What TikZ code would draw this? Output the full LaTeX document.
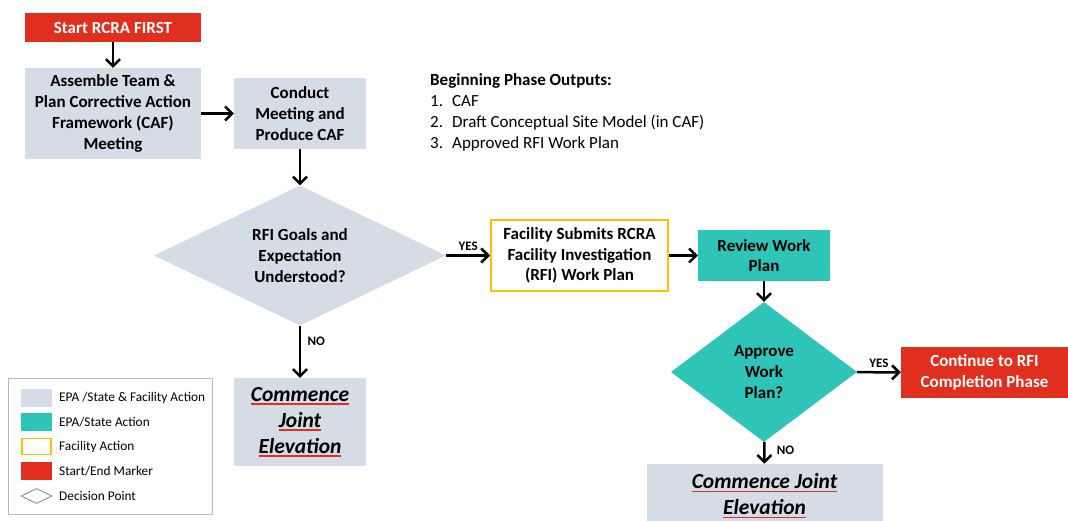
\documentclass[tikz,border=0pt]{standalone}
\usepackage{fontspec}
\setmainfont{Carlito}
\usepackage{tikz}
\usetikzlibrary{positioning, arrows.meta, shapes.geometric}

\definecolor{jointgray}{HTML}{D6DCE5}
\definecolor{epateal}{HTML}{2EC5B8}
\definecolor{markred}{HTML}{E12F1F}
\definecolor{facyellow}{HTML}{FFC000}

\newsavebox{\ulbox}
\newcommand{\redul}[1]{\leavevmode\sbox{\ulbox}{#1}%
    \rlap{\color{markred}\rule[-3.5pt]{\wd\ulbox}{1.7pt}}\usebox{\ulbox}}

\begin{document}
\begin{tikzpicture}[x=1pt, y=-1pt,
    block/.style={rectangle, fill=jointgray, inner sep=2pt, align=center,
                  font=\bfseries\fontsize{17}{20.8}\selectfont},
    tealblock/.style={block, fill=epateal},
    facblock/.style={block, fill=white, draw=facyellow, line width=2pt},
    marker/.style={block, fill=markred, text=white},
    decision/.style={diamond, fill=jointgray, inner sep=0pt, align=center,
                     font=\bfseries\fontsize{17}{20.8}\selectfont},
    joint/.style={block, font=\bfseries\itshape\fontsize{21.5}{26}\selectfont},
    arrow/.style={-{Straight Barb[length=7pt, width=14pt]}, line width=2.5pt},
    yesno/.style={font=\bfseries\fontsize{13}{15}\selectfont},
    swatch/.style={rectangle, minimum width=31pt, minimum height=18pt, inner sep=0pt},
    legtext/.style={anchor=west, inner sep=0pt, font=\fontsize{13.3}{15}\selectfont}
]
    \useasboundingbox (0,0) rectangle (1068,521);

    % Start
    \node[marker, minimum width=176pt, minimum height=29pt] (start) at (113,27.5) {Start RCRA FIRST};

    % Meeting
    \node[block, minimum width=176pt, minimum height=91pt] (assemble) at (113,113.5)
        {Assemble Team \&\\ Plan Corrective Action\\ Framework (CAF)\\ Meeting};
    \node[block, minimum width=132pt, minimum height=71pt] (conduct) at (300,113.5)
        {Conduct\\ Meeting and\\ Produce CAF};

    % Outputs
    \node[anchor=north west, align=left, inner sep=0pt, font=\fontsize{17}{21}\selectfont] (outputs) at (430,73)
        {\textbf{Beginning Phase Outputs:}\\
         \makebox[22pt][l]{1.}CAF\\
         \makebox[22pt][l]{2.}Draft Conceptual Site Model (in CAF)\\
         \makebox[22pt][l]{3.}Approved RFI Work Plan};

    % Decision 1
    \node[decision, aspect=2.09, minimum width=292pt, minimum height=140pt] (goals) at (300,255.5)
        {RFI Goals and\\ Expectation\\ Understood?};
    \node[facblock, minimum width=177pt, minimum height=71pt] (submit) at (579.5,255.5)
        {Facility Submits RCRA\\ Facility Investigation\\ (RFI) Work Plan};
    \node[tealblock, minimum width=132pt, minimum height=51pt] (review) at (764,255.5)
        {Review Work\\ Plan};
    \node[joint, minimum width=132pt, minimum height=88pt] (commence1) at (300,422)
        {\redul{Commence}\\ \redul{Joint}\\ \redul{Elevation}};

    % Decision 2
    \node[decision, fill=epateal, aspect=1.33, minimum width=186pt, minimum height=140pt] (approve) at (764,372)
        {Approve\\ Work\\ Plan?};
    \node[marker, minimum width=167pt, minimum height=51pt] (continue) at (984.5,372.5)
        {Continue to RFI\\ Completion Phase};
    \node[joint, minimum width=236pt, minimum height=64pt] (commence2) at (764.5,496)
        {\redul{Commence Joint}\\ \redul{Elevation}};

    % Arrows
    \draw[arrow] (start) -- (assemble);
    \draw[arrow] (assemble) -- (conduct);
    \draw[arrow] (conduct) -- (goals);
    \draw[arrow] (goals) -- node[yesno, above] {YES} (submit);
    \draw[arrow] (goals) -- node[yesno, right, pos=0.3, xshift=3pt] {NO} (commence1);
    \draw[arrow] (submit) -- (review);
    \draw[arrow] (review) -- (approve);
    \draw[arrow] (approve) -- node[yesno, above] {YES} (continue);
    \draw[arrow] (approve) -- node[yesno, right, pos=0.4, xshift=8pt] {NO} (commence2);

    % Legend
    \node[draw=gray!55, line width=1pt, minimum width=204pt, minimum height=136pt, inner sep=0pt] (legend) at (110,446) {};
    \node[swatch, fill=jointgray] (sw1) at (36.5,397.5) {};
    \node[swatch, fill=epateal] (sw2) at (36.5,422) {};
    \node[swatch, fill=white, draw=facyellow, line width=1.5pt, minimum width=29pt, minimum height=16pt] (sw3) at (36.5,446.5) {};
    \node[swatch, fill=markred] (sw4) at (36.5,471) {};
    \node[diamond, draw=gray, fill=white, line width=0.8pt, inner sep=0pt, aspect=2,
          minimum width=31pt, minimum height=15pt] (sw5) at (36.5,496) {};
    \node[legtext] at (59,397.5) {EPA /State \& Facility Action};
    \node[legtext] at (59,422) {EPA/State Action};
    \node[legtext] at (59,446.5) {Facility Action};
    \node[legtext] at (59,471) {Start/End Marker};
    \node[legtext] at (59,496) {Decision Point};

\end{tikzpicture}
\end{document}
